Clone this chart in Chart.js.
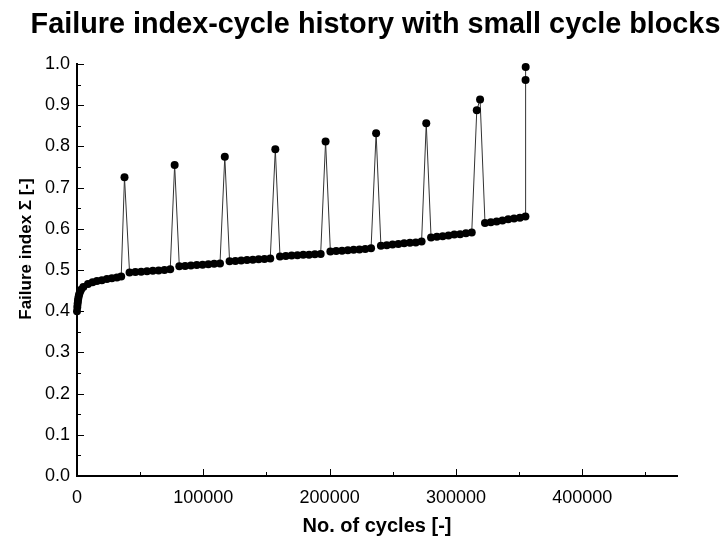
<!DOCTYPE html>
<html>
<head>
<meta charset="utf-8">
<script src="https://cdn.jsdelivr.net/npm/chart.js@4.4.0/dist/chart.umd.min.js"></script>
<style>
html,body{margin:0;padding:0;background:#fff;}
#wrap{width:727px;height:537px;}
</style>
</head>
<body>
<div id="wrap"><canvas id="c" width="727" height="537"></canvas></div>
<script>
const titleText = "Failure index-cycle history with small cycle blocks";
const xTitleText = "No. of cycles [-]";
const yTitleText = "Failure index \u03A3 [-]";

const cycles = [
  0, 250, 500, 750, 1000, 1400, 1800, 2400, 3200, 5000,
  8700, 12300, 15800, 19700, 23700, 27600, 31600, 35000,
  37600,
  41600, 46200, 50800, 55400, 60000, 64600, 69200, 73800,
  77300,
  81000, 85600, 90200, 94800, 99400, 104000, 108600, 113200,
  117000,
  120800, 125400, 130000, 134600, 139200, 143800, 148400, 153000,
  157000,
  160700, 165300, 169900, 174500, 179100, 183700, 188300, 192900,
  196800,
  200600, 205200, 209800, 214400, 219000, 223600, 228200, 232800,
  236800,
  240600, 245200, 249800, 254400, 259000, 263600, 268200, 272800,
  276500,
  280300, 284900, 289500, 294100, 298700, 303300, 307900, 312500,
  316500, 319100,
  323000, 327600, 332200, 336800, 341400, 346000, 350600, 355000,
  355100, 355200
];

const failureIndex = [
  0.400, 0.410, 0.418, 0.425, 0.431, 0.437, 0.442, 0.447, 0.452, 0.459,
  0.466, 0.470, 0.473, 0.475, 0.478, 0.480, 0.482, 0.484,
  0.725,
  0.494, 0.495, 0.496, 0.497, 0.498, 0.499, 0.500, 0.502,
  0.755,
  0.509, 0.510, 0.511, 0.512, 0.513, 0.514, 0.515, 0.516,
  0.775,
  0.521, 0.522, 0.523, 0.524, 0.525, 0.526, 0.527, 0.528,
  0.793,
  0.533, 0.534, 0.535, 0.536, 0.537, 0.537, 0.538, 0.539,
  0.812,
  0.545, 0.546, 0.547, 0.548, 0.549, 0.550, 0.551, 0.553,
  0.832,
  0.559, 0.560, 0.562, 0.563, 0.565, 0.566, 0.567, 0.569,
  0.856,
  0.579, 0.581, 0.582, 0.584, 0.586, 0.587, 0.589, 0.591,
  0.888, 0.914,
  0.614, 0.616, 0.618, 0.620, 0.623, 0.625, 0.627, 0.630,
  0.961, 0.993
];

// axis tick positions (major ticks carry labels, minor ticks do not)
const xMajorTicks = [0, 100000, 200000, 300000, 400000];
const xMinorTicks = [50000, 150000, 250000, 350000, 450000];
const xTickLabels = ["0", "100000", "200000", "300000", "400000"];
const yMajorTicks = [0, 0.1, 0.2, 0.3, 0.4, 0.5, 0.6, 0.7, 0.8, 0.9, 1.0];
const yMinorTicks = [0.05, 0.15, 0.25, 0.35, 0.45, 0.55, 0.65, 0.75, 0.85, 0.95];
const yTickLabels = ["0.0", "0.1", "0.2", "0.3", "0.4", "0.5", "0.6", "0.7", "0.8", "0.9", "1.0"];

const FONT = '"Liberation Sans", Arial, Helvetica, sans-serif';

function labelFor(values, labels, v) {
  for (let i = 0; i < values.length; i++) {
    if (Math.abs(values[i] - v) < 1e-6 * Math.max(1, Math.abs(v))) return labels[i];
  }
  return '';
}
function isIn(values, v) {
  return values.some(x => Math.abs(x - v) < 1e-6 * Math.max(1, Math.abs(v)));
}
function tickList(major, minor) {
  return major.concat(minor).sort((p, q) => p - q).map(v => ({ value: v }));
}

const decor = {
  id: 'decor',
  afterDraw(chart) {
    const ctx = chart.ctx;
    const a = chart.chartArea;
    const xs = chart.scales.x, ys = chart.scales.y;
    ctx.save();
    ctx.strokeStyle = '#000';
    ctx.lineWidth = 1;
    // inward tick marks
    xs.ticks.forEach(t => {
      if (t.value === 0) return;
      const px = Math.round(xs.getPixelForValue(t.value)) + 0.5;
      const len = isIn(xMajorTicks, t.value) ? 6 : 3;
      ctx.beginPath();
      ctx.moveTo(px, a.bottom);
      ctx.lineTo(px, a.bottom - 1 - len);
      ctx.stroke();
    });
    ys.ticks.forEach(t => {
      if (t.value === 0) return;
      const py = Math.round(ys.getPixelForValue(t.value)) + 0.5;
      const len = isIn(yMajorTicks, t.value) ? 6 : 3;
      ctx.beginPath();
      ctx.moveTo(a.left, py);
      ctx.lineTo(a.left + 1 + len, py);
      ctx.stroke();
    });
    // titles
    ctx.fillStyle = '#000';
    ctx.textAlign = 'center';
    ctx.textBaseline = 'alphabetic';
    const cx = (a.left + a.right) / 2;
    ctx.font = 'bold 28.8px ' + FONT;
    ctx.fillText(titleText, cx - 1.5, 33);
    ctx.font = 'bold 20px ' + FONT;
    ctx.fillText(xTitleText, cx, 532);
    ctx.translate(30.5, 249);
    ctx.rotate(-Math.PI / 2);
    ctx.font = 'bold 17px ' + FONT;
    ctx.fillText(yTitleText, 0, 0);
    ctx.restore();
  }
};

const points = cycles.map((c, i) => ({ x: c, y: failureIndex[i] }));

new Chart(document.getElementById('c'), {
  type: 'scatter',
  data: {
    datasets: [{
      data: points,
      showLine: true,
      borderColor: '#333',
      borderWidth: 1,
      tension: 0,
      pointRadius: 4,
      pointHoverRadius: 4,
      pointBackgroundColor: '#000',
      pointBorderColor: '#000',
      pointBorderWidth: 0,
      clip: false
    }]
  },
  options: {
    responsive: false,
    animation: false,
    devicePixelRatio: 1,
    layout: { padding: { top: 64, right: 50, left: 0, bottom: 0 } },
    plugins: {
      legend: { display: false },
      title: { display: false },
      tooltip: { enabled: false }
    },
    scales: {
      x: {
        type: 'linear',
        min: 0,
        max: 475000,
        afterBuildTicks(scale) { scale.ticks = tickList(xMajorTicks, xMinorTicks); },
        afterFit(scale) { scale.height = 61; },
        grid: { display: true, drawOnChartArea: false, drawTicks: false },
        border: { display: true, color: '#000', width: 2 },
        ticks: {
          autoSkip: false,
          maxRotation: 0,
          padding: 11,
          color: '#000',
          font: { family: FONT, size: 18 },
          callback: (v) => labelFor(xMajorTicks, xTickLabels, v)
        }
      },
      y: {
        type: 'linear',
        min: 0,
        max: 1.0,
        afterBuildTicks(scale) { scale.ticks = tickList(yMajorTicks, yMinorTicks); },
        afterFit(scale) { scale.width = 77; },
        grid: { display: true, drawOnChartArea: false, drawTicks: false },
        border: { display: true, color: '#000', width: 2 },
        ticks: {
          autoSkip: false,
          padding: 7,
          color: '#000',
          font: { family: FONT, size: 18 },
          callback: (v) => labelFor(yMajorTicks, yTickLabels, v)
        }
      }
    }
  },
  plugins: [decor]
});
</script>
</body>
</html>
